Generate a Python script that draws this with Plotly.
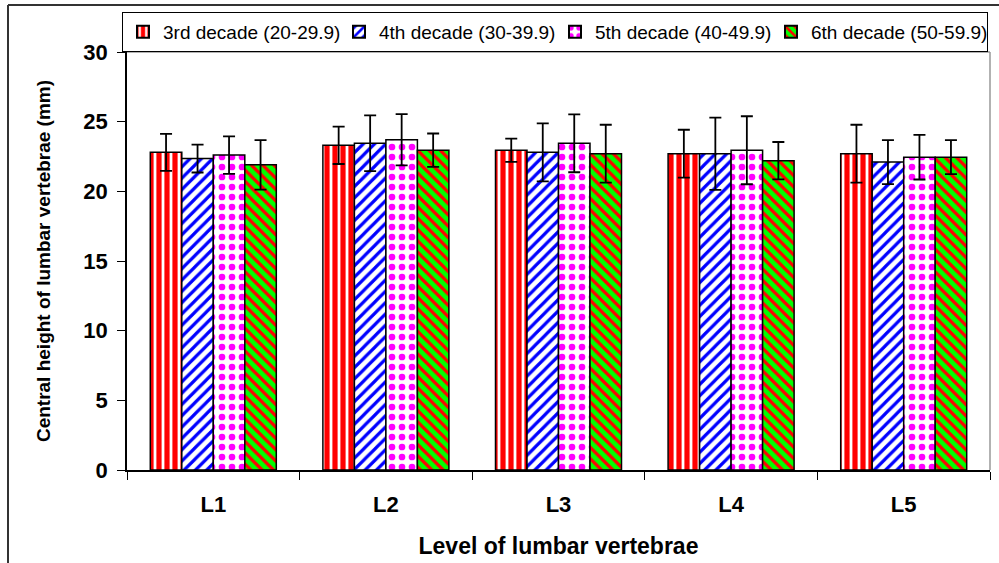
import plotly.graph_objects as go

categories = ["L1", "L2", "L3", "L4", "L5"]
series_names = ["3rd decade (20-29.9)", "4th decade (30-39.9)",
                "5th decade (40-49.9)", "6th decade (50-59.9)"]
d3 = [22.8, 23.3, 22.95, 22.7, 22.7]
e3 = [1.33, 1.34, 0.84, 1.72, 2.08]
d4 = [22.35, 23.45, 22.8, 22.7, 22.1]
e4 = [1.0, 2.0, 2.08, 2.59, 1.58]
d5 = [22.6, 23.7, 23.45, 22.95, 22.45]
e5 = [1.35, 1.84, 2.08, 2.44, 1.6]
d6 = [21.9, 22.95, 22.7, 22.2, 22.45]
e6 = [1.78, 1.2, 2.08, 1.34, 1.22]
y_ticks = [0, 5, 10, 15, 20, 25, 30]

FONT = "Liberation Sans, Arial, sans-serif"

patterns = [
    dict(shape="|", bgcolor="#FF0000", fgcolor="#FFFFFF", size=8, solidity=0.35, fillmode="replace"),
    dict(shape="/", bgcolor="#FFFFFF", fgcolor="#0000FF", size=8, solidity=0.4, fillmode="replace"),
    dict(shape=".", bgcolor="#FFFFFF", fgcolor="#FF00FF", size=10, solidity=0.35, fillmode="replace"),
    dict(shape="\\", bgcolor="#00FF00", fgcolor="#FF0000", size=8, solidity=0.4, fillmode="replace"),
]

fig = go.Figure()
for name, vals, errs, pat in zip(series_names, [d3, d4, d5, d6], [e3, e4, e5, e6], patterns):
    fig.add_trace(go.Bar(
        x=categories, y=vals, name=name,
        marker=dict(color=pat["bgcolor"], pattern=pat, line=dict(color="black", width=1.5)),
        error_y=dict(type="data", array=errs, visible=True, color="black", thickness=1.8, width=6),
    ))

W, H = 999, 563
L, R, T, B = 127, 9, 52, 93
pw, ph = W - L - R, H - T - B

def px_x(p):
    return (p - L) / pw

def px_y(p):
    return 1 - (p - T) / ph

fig.update_layout(
    width=W, height=H,
    margin=dict(l=L, r=R, t=T, b=B, autoexpand=False),
    paper_bgcolor="white", plot_bgcolor="white",
    barmode="group", bargap=0.27, bargroupgap=0,
    font=dict(family=FONT, color="black"),
    showlegend=True,
    legend=dict(
        orientation="h", x=px_x(122), y=px_y(12), xanchor="left", yanchor="top",
        bordercolor="black", borderwidth=1, bgcolor="white",
        font=dict(size=19, family=FONT), entrywidth=171, entrywidthmode="pixels",
        tracegroupgap=0, itemsizing="constant",
    ),
    xaxis=dict(
        showline=True, linecolor="black", linewidth=1.5,
        ticks="outside", ticklen=8, tickcolor="black", tickson="boundaries",
        tickfont=dict(size=22, family=FONT, weight="bold"),
        ticklabelstandoff=14,
        title=dict(text="Level of lumbar vertebrae", font=dict(size=23, family=FONT, weight="bold"), standoff=22),
        showgrid=False, zeroline=False,
    ),
    yaxis=dict(
        range=[0, 30], tickvals=y_ticks, showline=True, linecolor="black", linewidth=1.5,
        ticks="outside", ticklen=8, tickcolor="black",
        tickfont=dict(size=22, family=FONT, weight="bold"),
        ticklabelstandoff=5,
        title=dict(text="Central height of lumbar vertebrae (mm)", font=dict(size=19, family=FONT, weight="bold"), standoff=28),
        showgrid=False, zeroline=False,
    ),
    shapes=[
        dict(type="line", xref="paper", yref="paper", x0=0, x1=1, y0=1, y1=1, line=dict(color="#999999", width=1.5)),
        dict(type="line", xref="paper", yref="paper", x0=1, x1=1, y0=0, y1=1, line=dict(color="#999999", width=1.5)),
        dict(type="line", xref="paper", yref="paper", x0=px_x(8), x1=px_x(1005), y0=px_y(5), y1=px_y(5), line=dict(color="#333333", width=2)),
        dict(type="line", xref="paper", yref="paper", x0=px_x(8), x1=px_x(8), y0=px_y(5), y1=px_y(570), line=dict(color="#333333", width=2)),
    ],
)

fig.write_html("out.html", config={"displayModeBar": False},
               post_script="document.body.style.margin='0px';")
